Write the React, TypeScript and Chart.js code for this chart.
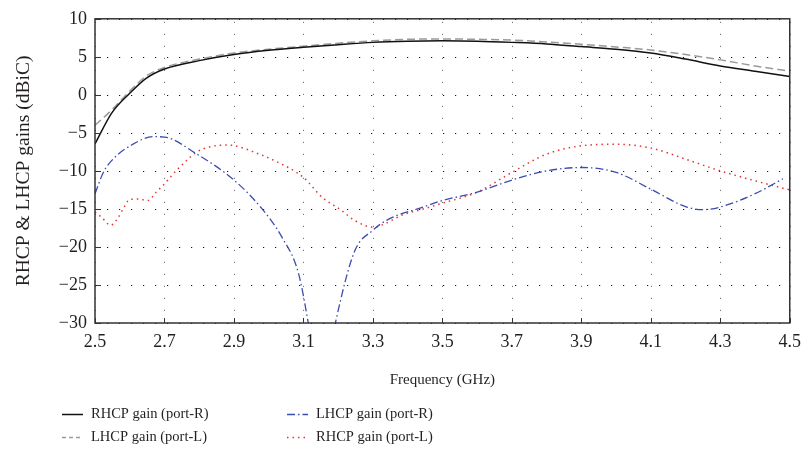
import React, { useEffect, useRef } from "react";
import { Chart, registerables } from "chart.js";

Chart.register(...registerables);

const xTicks = [2.5, 2.7, 2.9, 3.1, 3.3, 3.5, 3.7, 3.9, 4.1, 4.3, 4.5];
const yTicks = [-30, -25, -20, -15, -10, -5, 0, 5, 10];

const rhcpRFreq = [2.5, 2.548, 2.6, 2.648, 2.7, 2.8, 2.9, 3.0, 3.1, 3.2, 3.3, 3.4, 3.5, 3.6, 3.7, 3.8, 3.9, 4.0, 4.1, 4.2, 4.3, 4.4, 4.5];
const rhcpRGain = [-6.45, -2.4, 0.2, 2.2, 3.4, 4.5, 5.3, 5.85, 6.25, 6.6, 6.9, 7.05, 7.1, 7.05, 6.9, 6.7, 6.35, 6.0, 5.5, 4.7, 3.8, 3.1, 2.4];

const lhcpLFreq = [2.5, 2.548, 2.6, 2.648, 2.7, 2.8, 2.9, 3.0, 3.1, 3.2, 3.3, 3.4, 3.5, 3.6, 3.7, 3.8, 3.9, 4.0, 4.1, 4.2, 4.3, 4.4, 4.5];
const lhcpLGain = [-4.0, -2.0, 0.5, 2.5, 3.6, 4.7, 5.5, 6.0, 6.4, 6.8, 7.1, 7.3, 7.35, 7.3, 7.2, 6.95, 6.65, 6.3, 5.9, 5.3, 4.6, 3.8, 3.1];

const lhcpRFreq = [2.5, 2.524, 2.552, 2.609, 2.667, 2.7, 2.79, 2.9, 2.981, 3.038, 3.086, 3.114, 3.15, 3.192, 3.247, 3.3, 3.343, 3.438, 3.5, 3.6, 3.7, 3.8, 3.9, 4.0, 4.1, 4.2, 4.25, 4.3, 4.4, 4.48];
const lhcpRGain = [-13.0, -10.2, -8.45, -6.5, -5.5, -5.55, -7.7, -11.2, -15.0, -18.7, -23.5, -30, -40, -30, -20.6, -17.8, -16.4, -14.85, -13.9, -12.8, -11.2, -10.0, -9.55, -10.2, -12.4, -14.7, -15.1, -14.75, -13.0, -11.05];

const rhcpLFreq = [2.5, 2.519, 2.545, 2.567, 2.581, 2.6, 2.624, 2.652, 2.676, 2.7, 2.733, 2.762, 2.79, 2.829, 2.876, 2.9, 2.962, 3.019, 3.1, 3.152, 3.21, 3.247, 3.3, 3.324, 3.39, 3.438, 3.5, 3.6, 3.7, 3.8, 3.9, 4.0, 4.1, 4.2, 4.3, 4.4, 4.5];
const rhcpLGain = [-15.4, -16.1, -17.15, -16.1, -15.0, -13.75, -13.7, -13.9, -12.8, -11.7, -10.0, -8.7, -7.6, -6.85, -6.6, -6.67, -7.6, -8.7, -10.85, -13.4, -15.2, -16.5, -17.4, -17.15, -15.7, -15.1, -14.25, -12.8, -10.2, -7.8, -6.7, -6.5, -7.0, -8.45, -10.0, -11.3, -12.5];

const seriesLabels = ["RHCP gain (port-R)", "LHCP gain (port-L)", "LHCP gain (port-R)", "RHCP gain (port-L)"];

const FONT = "'Liberation Serif', 'Times New Roman', serif";
const TEXT = "#231f20";

const pts = (xs: number[], ys: number[]) => xs.map((x, i) => ({ x, y: ys[i] }));

const styles = [
  { color: "#111111", dash: [] as number[], width: 1.5 },
  { color: "#9a9a9a", dash: [8, 4], width: 1.5 },
  { color: "#3b4db0", dash: [8, 3, 1.5, 3], width: 1.3 },
  { color: "#e63232", dash: [1.5, 4], width: 1.5 },
];

const legendPos = [
  { x: 62, y: 414 },
  { x: 62, y: 437 },
  { x: 287, y: 414 },
  { x: 287, y: 437 },
];

const decorPlugin = {
  id: "decor",
  beforeDatasetsDraw(chart: any) {
    const { ctx, chartArea: a, scales } = chart;
    ctx.save();
    ctx.lineWidth = 1;
    ctx.strokeStyle = "#777777";
    ctx.setLineDash([1.2, 10.8]);
    xTicks.forEach((v) => {
      const x = Math.round(scales.x.getPixelForValue(v)) + 0.5;
      ctx.beginPath();
      ctx.moveTo(x, a.bottom);
      ctx.lineTo(x, a.top);
      ctx.stroke();
    });
    ctx.strokeStyle = "#111111";
    yTicks.forEach((v) => {
      const y = Math.round(scales.y.getPixelForValue(v)) + 0.5;
      ctx.beginPath();
      ctx.moveTo(a.left, y);
      ctx.lineTo(a.right, y);
      ctx.stroke();
    });
    ctx.restore();
  },
  afterDatasetsDraw(chart: any) {
    const { ctx, chartArea: a, scales } = chart;
    ctx.save();
    ctx.setLineDash([]);
    ctx.strokeStyle = "#333333";
    ctx.lineWidth = 1.5;
    ctx.strokeRect(a.left, a.top, a.right - a.left, a.bottom - a.top);
    ctx.lineWidth = 1;
    xTicks.forEach((v) => {
      const x = Math.round(scales.x.getPixelForValue(v)) + 0.5;
      ctx.beginPath();
      ctx.moveTo(x, a.bottom);
      ctx.lineTo(x, a.bottom - 5);
      ctx.stroke();
    });
    yTicks.forEach((v) => {
      const y = Math.round(scales.y.getPixelForValue(v)) + 0.5;
      ctx.beginPath();
      ctx.moveTo(a.left, y);
      ctx.lineTo(a.left + 6, y);
      ctx.stroke();
    });
    ctx.font = `14.5px ${FONT}`;
    ctx.textBaseline = "middle";
    ctx.fillStyle = TEXT;
    chart.data.datasets.forEach((ds: any, i: number) => {
      const p = legendPos[i];
      const s = styles[i];
      ctx.strokeStyle = s.color;
      ctx.lineWidth = s.width;
      ctx.setLineDash(i === 1 ? [4, 3] : s.dash);
      ctx.beginPath();
      ctx.moveTo(p.x, p.y + 0.5);
      ctx.lineTo(p.x + 21, p.y + 0.5);
      ctx.stroke();
      ctx.setLineDash([]);
      ctx.fillText(ds.label, p.x + 29, p.y);
    });
    ctx.restore();
  },
};

export default function App() {
  const ref = useRef<HTMLCanvasElement | null>(null);
  useEffect(() => {
    document.body.style.margin = "0";
    if (!ref.current) return;
    const data = [
      pts(rhcpRFreq, rhcpRGain),
      pts(lhcpLFreq, lhcpLGain),
      pts(lhcpRFreq, lhcpRGain),
      pts(rhcpLFreq, rhcpLGain),
    ];
    const chart = new Chart(ref.current, {
      type: "line",
      data: {
        datasets: data.map((d, i) => ({
          label: seriesLabels[i],
          data: d,
          borderColor: styles[i].color,
          borderDash: styles[i].dash,
          borderWidth: styles[i].width,
          pointRadius: 0,
          fill: false,
          cubicInterpolationMode: "monotone" as const,
        })),
      },
      options: {
        animation: false,
        responsive: false,
        layout: { padding: { top: 17, right: 14, left: 0, bottom: 0 } },
        plugins: { legend: { display: false }, tooltip: { enabled: false } },
        scales: {
          x: {
            type: "linear",
            min: 2.5,
            max: 4.5,
            afterBuildTicks: (s: any) => {
              s.ticks = xTicks.map((v) => ({ value: v }));
            },
            afterFit: (s: any) => {
              s.height = 134;
            },
            grid: { display: false, drawTicks: false },
            border: { display: false },
            ticks: {
              padding: 8,
              color: TEXT,
              font: { family: FONT, size: 18 },
              maxRotation: 0,
              autoSkip: false,
              callback: (v: any) => Number(v).toFixed(1),
            },
            title: {
              display: true,
              text: "Frequency (GHz)",
              color: TEXT,
              font: { family: FONT, size: 15 },
              padding: { top: 0, bottom: 68 },
            },
          },
          y: {
            type: "linear",
            min: -30,
            max: 10,
            afterBuildTicks: (s: any) => {
              s.ticks = yTicks.map((v) => ({ value: v }));
            },
            afterFit: (s: any) => {
              s.width = 95;
            },
            grid: { display: false, drawTicks: false },
            border: { display: false },
            ticks: {
              padding: 8,
              color: TEXT,
              font: { family: FONT, size: 18 },
              autoSkip: false,
              callback: (v: any) => String(v).replace("-", "\u2212"),
            },
            title: {
              display: true,
              text: "RHCP & LHCP gains (dBiC)",
              color: TEXT,
              font: { family: FONT, size: 19.5 },
              padding: { top: 12, bottom: 0 },
            },
          },
        },
      },
      plugins: [decorPlugin],
    });
    return () => chart.destroy();
  }, []);
  return (
    <div style={{ width: 809, height: 457, background: "#fff" }}>
      <canvas ref={ref} width={809} height={457} />
    </div>
  );
}
